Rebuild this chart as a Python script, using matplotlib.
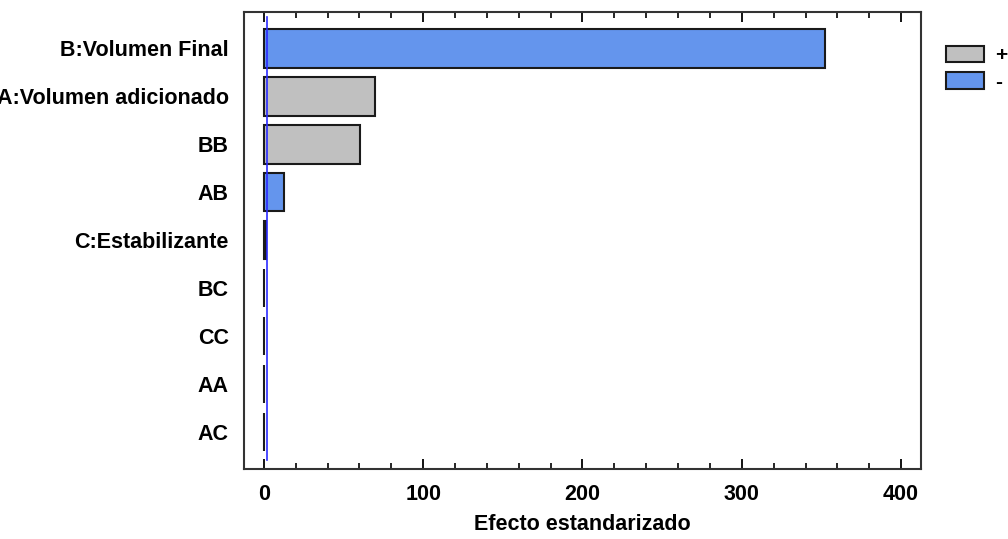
import matplotlib
matplotlib.use("Agg")
import matplotlib.pyplot as plt
from matplotlib.patches import Patch
from matplotlib.ticker import MultipleLocator

categories = ["B:Volumen Final", "A:Volumen adicionado", "BB", "AB",
              "C:Estabilizante", "BC", "CC", "AA", "AC"]
effects = [352.0, 69.7, 60.3, 12.8, 1.2, 0.3, 0.3, 0.3, 0.3]
signs = ["-", "+", "+", "-", "-", "+", "-", "+", "-"]
threshold = 1.9
xticks = [0, 100, 200, 300, 400]

colors = {"+": "#C0C0C0", "-": "#6495ED"}

plt.rcParams['font.family'] = ['Liberation Sans', 'DejaVu Sans']
plt.rcParams['font.weight'] = 'bold'

fig = plt.figure(figsize=(10.08, 5.39), dpi=100)
ax = fig.add_axes([0.242, 0.130, 0.6717, 0.8477])

ypos = list(range(len(categories)))
ax.barh(ypos, effects, height=0.8, left=0,
        color=[colors[s] for s in signs], edgecolor="#1a1a1a", linewidth=1.5)
ax.axvline(threshold, ymin=0.02, ymax=0.99, color="#2b2bff", linewidth=1.2)

ax.set_ylim(len(categories) - 1 + 0.77, -0.76)
ax.set_xlim(-12.5, 412.5)
ax.set_yticks(ypos)
ax.set_yticklabels(categories, fontsize=15.5, fontweight='bold')
ax.tick_params(axis='y', length=0, pad=11)
ax.set_xticks(xticks)
ax.xaxis.set_minor_locator(MultipleLocator(20))
ax.tick_params(axis='x', which='major', direction='in', length=7, width=1.3,
               top=True, labelsize=15.5, pad=11)
ax.tick_params(axis='x', which='minor', direction='in', length=4, width=1.2, top=True)
for lbl in ax.get_xticklabels():
    lbl.set_fontweight('bold')
ax.set_xlabel("Efecto estandarizado", fontsize=15.5, fontweight='bold', labelpad=6)
for sp in ax.spines.values():
    sp.set_linewidth(1.5)
    sp.set_color("#333333")

handles = [Patch(facecolor=colors["+"], edgecolor="#1a1a1a", linewidth=1.5, label="+"),
           Patch(facecolor=colors["-"], edgecolor="#1a1a1a", linewidth=1.5, label="-")]
fig.legend(handles=handles, loc="upper left", bbox_to_anchor=(0.938, 0.915),
           frameon=False, fontsize=15, handlelength=1.87, handleheight=0.82,
           handletextpad=0.5, labelspacing=0.35, borderaxespad=0, borderpad=0)

fig.savefig("out.png", dpi=100)
